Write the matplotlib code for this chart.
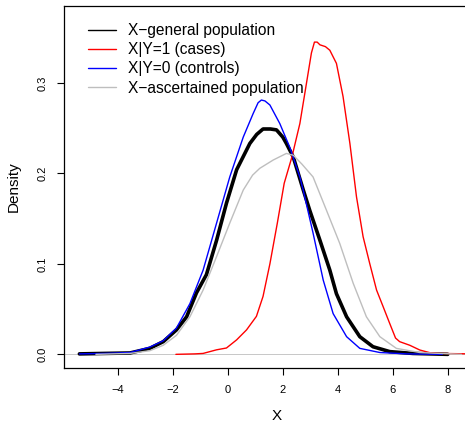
import matplotlib
matplotlib.use('Agg')
import matplotlib.pyplot as plt

plt.rcParams['font.family'] = ['Liberation Sans', 'DejaVu Sans']

# density curves (x, density)
general_x = [-5.4, -4.5, -3.56, -2.84, -2.35, -1.87, -1.50, -1.14, -0.78, -0.41, -0.05, 0.32,
             0.80, 1.05, 1.28, 1.55, 1.77, 2.00, 2.13, 2.38, 2.56, 2.74, 2.98, 3.35, 3.71, 3.95,
             4.32, 4.80, 5.28, 5.89, 6.73, 8.0]
general_y = [0.0005, 0.001, 0.0015, 0.0066, 0.014, 0.027, 0.0415, 0.068, 0.088, 0.126, 0.167, 0.204,
             0.233, 0.243, 0.249, 0.249, 0.248, 0.240, 0.233, 0.218, 0.200, 0.182, 0.159, 0.126, 0.093, 0.067,
             0.0415, 0.0195, 0.0084, 0.003, 0.001, 0.0]

cases_x = [-1.89, -1.2, -0.9, -0.41, -0.05, 0.32, 0.68, 1.04, 1.28, 1.53, 1.80, 2.05, 2.33, 2.62,
           2.86, 3.04, 3.15, 3.25, 3.35, 3.55, 3.71, 3.95, 4.19, 4.44, 4.68, 4.92, 5.16, 5.41,
           5.65, 5.89, 6.10, 6.25, 6.62, 6.98, 7.35, 7.7, 10.0]
cases_y = [0.0, 0.0005, 0.001, 0.005, 0.007, 0.016, 0.027, 0.042, 0.064, 0.100, 0.145, 0.189, 0.218, 0.255,
           0.2995, 0.333, 0.345, 0.345, 0.342, 0.340, 0.336, 0.3215, 0.285, 0.233, 0.174, 0.130, 0.1005, 0.071,
           0.0526, 0.034, 0.018, 0.014, 0.010, 0.0048, 0.0018, 0.001, 0.0]

controls_x = [-5.4, -4.5, -3.56, -2.84, -2.35, -1.87, -1.38, -0.90, -0.41, 0.07, 0.56, 0.92, 1.10,
              1.22, 1.35, 1.53, 1.89, 2.25, 2.62, 2.74, 3.10, 3.47, 3.83, 4.32, 4.80, 5.53, 6.5, 7.8]
controls_y = [0.0005, 0.001, 0.002, 0.008, 0.015, 0.029, 0.056, 0.093, 0.145, 0.196, 0.240, 0.266, 0.278,
              0.281, 0.280, 0.2755, 0.255, 0.229, 0.196, 0.1815, 0.134, 0.082, 0.045, 0.0195, 0.0066, 0.002, 0.0005, 0.0]

ascert_x = [-4.8, -3.56, -2.84, -2.35, -1.87, -1.38, -0.90, -0.41, 0.07, 0.56, 0.90, 1.16, 1.65,
            2.13, 2.38, 2.70, 3.10, 3.59, 4.07, 4.56, 5.04, 5.53, 6.13, 6.98, 8.5]
ascert_y = [0.0, 0.001, 0.004, 0.010, 0.021, 0.0415, 0.071, 0.108, 0.145, 0.1815, 0.198, 0.2055, 0.2147,
            0.222, 0.220, 0.210, 0.196, 0.159, 0.1226, 0.0785, 0.0415, 0.0195, 0.0066, 0.002, 0.0]

labels = ['X\u2212general population', 'X|Y=1 (cases)', 'X|Y=0 (controls)', 'X\u2212ascertained population']
xticks = [-4, -2, 0, 2, 4, 6, 8]
yticks = [0.0, 0.1, 0.2, 0.3]

fig = plt.figure(figsize=(4.65, 4.22), dpi=100)
# plot region runs past the right edge, like the cropped original
ax = fig.add_axes([64 / 465, 54 / 422, 425 / 465, 362 / 422])

ax.axhline(0, color='#bebebe', lw=0.6, zorder=1)
line_kw = dict(solid_joinstyle='round', solid_capstyle='round')
ax.plot(general_x, general_y, color='black', lw=2.6, label=labels[0], **line_kw)
ax.plot(cases_x, cases_y, color='red', lw=1.0, label=labels[1], **line_kw)
ax.plot(controls_x, controls_y, color='blue', lw=1.0, label=labels[2], **line_kw)
ax.plot(ascert_x, ascert_y, color='#bebebe', lw=1.0, label=labels[3], **line_kw)

ax.set_xlim(-5.96, 9.5)
ax.set_ylim(-0.0151, 0.3849)
ax.set_xticks(xticks)
ax.set_xticklabels([f'{t:d}'.replace('-', '\u2212') for t in xticks])
ax.set_yticks(yticks)
ax.set_yticklabels([f'{t:.1f}' for t in yticks], rotation=90, va='center')
ax.tick_params(length=5, width=0.8, labelsize=8, pad=7, direction='out')
ax.spines['right'].set_visible(False)
for s in ['left', 'bottom', 'top']:
    ax.spines[s].set_linewidth(0.9)

ax.set_xlabel('X', fontsize=11, labelpad=10)
ax.set_ylabel('Density', fontsize=11, labelpad=12)

leg = ax.legend(loc='upper left', bbox_to_anchor=(88 / 465, 1 - 23 / 422), bbox_transform=fig.transFigure,
                frameon=False, fontsize=11.2, borderpad=0, borderaxespad=0, handlelength=1.8,
                handletextpad=0.8, labelspacing=0.27)
# legend keys are all drawn thin in the original
for h in leg.get_lines():
    h.set_linewidth(1.0)

fig.savefig('out.png', dpi=100)
